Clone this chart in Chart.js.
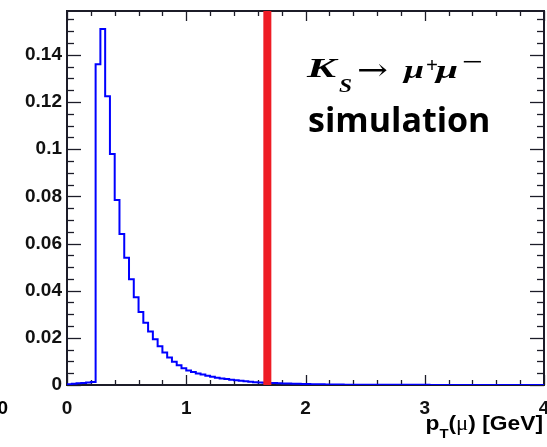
<!DOCTYPE html>
<html>
<head>
<meta charset="utf-8">
<script src="https://cdn.jsdelivr.net/npm/chart.js@4.4.1/dist/chart.umd.min.js"></script>
<style>
  html, body { margin: 0; padding: 0; background: #fff; }
  canvas { display: block; }
</style>
</head>
<body>
<canvas id="grafico" width="547" height="447"></canvas>
<script>
// pT del muon: 100 bins de 0.04 GeV entre 0 y 4 GeV (normalizado)
const anchoBin = 0.04;
const contenidoBins = [
  0.0003, 0.0005, 0.0007, 0.0009, 0.0011, 0.0013, 0.136, 0.151, 0.1225, 0.098,
  0.0785, 0.064, 0.054, 0.0448, 0.0372, 0.031, 0.0264, 0.0227, 0.0194, 0.0164,
  0.0138, 0.0117, 0.0099, 0.0084, 0.0071, 0.0062, 0.0055, 0.0049, 0.0044, 0.0039,
  0.0035, 0.0031, 0.0028, 0.0025, 0.0022, 0.002, 0.0018, 0.0016, 0.0014, 0.0012,
  0.0011, 0.001, 0.0009, 0.0008, 0.0007, 0.0006, 0.0006, 0.0005, 0.0005, 0.0004,
  0.0004, 0.0003, 0.0003, 0.0003, 0.0002, 0.0002, 0.0002, 0.0002, 0.0001, 0.0001,
  0.0001, 0.0001, 0.0001, 0.0001, 0.0001, 0.0001, 0.0001, 0.0001, 0.0001, 0.0001,
  0.0001, 0.0001, 0.00008, 0.00008, 0.00006, 0.00006, 0.00005, 0.00005, 0.00004, 0.00004,
  0.00003, 0.00003, 0.00003, 0.00003, 0.00003, 0.00002, 0.00002, 0.00002, 0.00002, 0.00002,
  0.00002, 0.00002, 0.00002, 0.00002, 0.00002, 0.00001, 0.00001, 0.00001, 0.00001, 0.00001
];

// corte en pT marcado con la linea roja
const corteX = 1.68;

// rango de ejes y etiquetas
const xMin = 0, xMax = 4;
const yMin = 0, yMax = 0.1586;
const etiquetasX = [0, 1, 2, 3, 4];
const etiquetasY = [0, 0.02, 0.04, 0.06, 0.08, 0.1, 0.12, 0.14];

const colorEje = '#1c1c28';
const fuenteEjes = 'Liberation Sans, Arial, sans-serif';

// puntos en el borde izquierdo de cada bin; con stepped 'before' la linea
// sigue horizontal con el valor del bin hasta el borde siguiente
const puntosHisto = contenidoBins.map((v, i) => ({ x: i * anchoBin, y: v }));
puntosHisto.push({ x: contenidoBins.length * anchoBin, y: contenidoBins[contenidoBins.length - 1] });

const linea = (ctx, x1, y1, x2, y2) => {
    ctx.beginPath();
    ctx.moveTo(x1, y1);
    ctx.lineTo(x2, y2);
    ctx.stroke();
};

// escribe un texto estirado en horizontal hasta el ancho pedido
const textoAncho = (ctx, texto, fuente, x, y, ancho) => {
    ctx.font = fuente;
    const w = ctx.measureText(texto).width;
    ctx.save();
    ctx.translate(x, y);
    ctx.scale(ancho / w, 1);
    ctx.fillText(texto, 0, 0);
    ctx.restore();
};

// marco estilo ROOT con marcas hacia adentro en los cuatro lados
const marcoPlugin = {
    id: 'marcoRoot',
    beforeDatasetsDraw(chart) {
        const { ctx, chartArea: a, scales: { x, y } } = chart;
        ctx.save();
        ctx.strokeStyle = colorEje;
        ctx.lineWidth = 1.3;
        for (let k = 0; k <= 20; k++) {
            const px = Math.round(x.getPixelForValue(k * 0.2)) + 0.5;
            const largo = k % 5 === 0 ? 10 : 5;
            linea(ctx, px, a.bottom, px, a.bottom - largo);
            linea(ctx, px, a.top, px, a.top + largo);
        }
        for (let k = 0; k * 0.005 <= yMax; k++) {
            const py = Math.round(y.getPixelForValue(k * 0.005)) + 0.5;
            const largo = k % 4 === 0 ? 14 : 7;
            linea(ctx, a.left, py, a.left + largo, py);
            linea(ctx, a.right, py, a.right - largo, py);
        }
        ctx.lineWidth = 2;
        ctx.strokeRect(a.left, a.top, a.width, a.height);
        ctx.restore();
    }
};

// textos: proceso, "simulation", titulo del eje x
const textosPlugin = {
    id: 'textos',
    afterDraw(chart) {
        const ctx = chart.ctx;
        ctx.save();
        ctx.fillStyle = '#000';
        ctx.textBaseline = 'alphabetic';
        ctx.textAlign = 'left';

        // K_S -> mu+ mu-
        textoAncho(ctx, 'K', 'italic bold 27px "Liberation Serif"', 307, 77, 29);
        textoAncho(ctx, 'S', 'italic bold 19px "Liberation Serif"', 339, 92, 13);
        textoAncho(ctx, '\u2192', '30px "DejaVu Serif"', 357, 80, 31);
        textoAncho(ctx, '\u03bc', 'italic bold 26px "Liberation Serif"', 404, 78, 20);
        textoAncho(ctx, '\u03bc', 'italic bold 26px "Liberation Serif"', 436, 78, 22);
        textoAncho(ctx, '+', 'bold 22px "Liberation Serif"', 426, 72, 12);
        textoAncho(ctx, '\u2212', 'bold 22px "Liberation Serif"', 462, 69, 21);

        ctx.font = 'bold 34px "Open Sans"';
        ctx.fillText('simulation', 308, 132);

        // titulo del eje x, alineado a la derecha del marco
        const partes = [
            { t: 'p', f: 'bold 20px ' + fuenteEjes, dy: 0 },
            { t: 'T', f: 'bold 13px ' + fuenteEjes, dy: 8 },
            { t: '(', f: 'bold 20px ' + fuenteEjes, dy: 0 },
            { t: '\u03bc', f: '20px "Liberation Serif"', dy: 0 },
            { t: ') [GeV]', f: 'bold 20px ' + fuenteEjes, dy: 0 }
        ];
        const estirar = 1.14;
        let ancho = 0;
        partes.forEach(p => { ctx.font = p.f; ancho += ctx.measureText(p.t).width; });
        ctx.save();
        ctx.translate(543 - ancho * estirar, 430);
        ctx.scale(estirar, 1);
        let px = 0;
        partes.forEach(p => {
            ctx.font = p.f;
            ctx.fillText(p.t, px, p.dy);
            px += ctx.measureText(p.t).width;
        });
        ctx.restore();

        // cero suelto en la esquina inferior izquierda
        ctx.font = 'bold 19px ' + fuenteEjes;
        ctx.textAlign = 'right';
        ctx.fillText('0', 8, 414);
        ctx.restore();
    }
};

const ctx = document.getElementById('grafico').getContext('2d');
new Chart(ctx, {
    type: 'line',
    data: {
        datasets: [
            {
                label: 'corte',
                data: [{ x: corteX, y: yMin }, { x: corteX, y: yMax }],
                borderColor: '#ee1c25',
                borderWidth: 8,
                pointRadius: 0,
                fill: false,
                order: 0
            },
            {
                label: 'pT(mu)',
                data: puntosHisto,
                stepped: 'before',
                borderColor: '#0000ff',
                borderWidth: 2,
                pointRadius: 0,
                fill: false,
                order: 1
            }
        ]
    },
    options: {
        responsive: false,
        animation: false,
        devicePixelRatio: 1,
        layout: { padding: { left: 0, right: 3, top: 11, bottom: 0 } },
        plugins: { legend: { display: false }, tooltip: { enabled: false } },
        scales: {
            x: {
                type: 'linear',
                min: xMin,
                max: xMax,
                grid: { display: false, drawTicks: false },
                border: { display: false },
                afterBuildTicks: s => { s.ticks = etiquetasX.map(v => ({ value: v })); },
                afterFit: s => { s.height = 62; s.paddingLeft = 0; s.paddingRight = 0; },
                ticks: {
                    autoSkip: false,
                    maxRotation: 0,
                    padding: 12,
                    color: '#111',
                    font: { family: fuenteEjes, size: 19, weight: 'bold' },
                    callback: v => String(v)
                }
            },
            y: {
                type: 'linear',
                min: yMin,
                max: yMax,
                grid: { display: false, drawTicks: false },
                border: { display: false },
                afterBuildTicks: s => { s.ticks = etiquetasY.map(v => ({ value: v })); },
                afterFit: s => { s.width = 67; s.paddingTop = 0; s.paddingBottom = 0; },
                ticks: {
                    autoSkip: false,
                    padding: 5,
                    color: '#111',
                    font: { family: fuenteEjes, size: 19, weight: 'bold' },
                    callback: v => String(parseFloat(v.toFixed(3)))
                }
            }
        }
    },
    plugins: [marcoPlugin, textosPlugin]
});
</script>
</body>
</html>
